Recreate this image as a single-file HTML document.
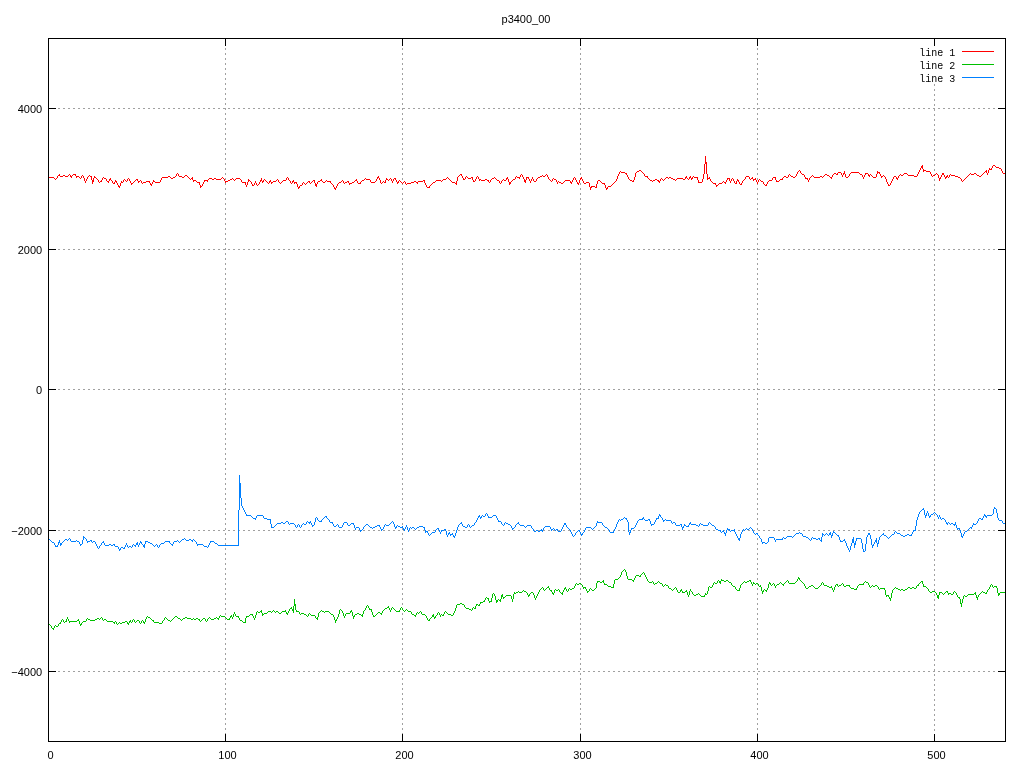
<!DOCTYPE html>
<html><head><meta charset="utf-8"><title>p3400_00</title>
<style>
html,body{margin:0;padding:0;background:#fff;overflow:hidden}
svg{display:block;will-change:transform}
text{font-family:"Liberation Sans",sans-serif;font-size:11px;fill:#000}
.m{font-family:"Liberation Mono",monospace;font-size:10px}
</style></head><body>
<svg width="1024" height="768" viewBox="0 0 1024 768">
<rect width="1024" height="768" fill="#fff"/>
<g shape-rendering="crispEdges" stroke="#a0a0a0" stroke-width="1" stroke-dasharray="2 3" fill="none">
<path d="M58 108.5H998"/>
<path d="M58 249.5H998"/>
<path d="M58 389.5H998"/>
<path d="M58 530.5H998"/>
<path d="M58 671.5H998"/>
<path d="M225.5 48V734"/>
<path d="M402.5 48V734"/>
<path d="M580.5 48V734"/>
<path d="M757.5 48V734"/>
<path d="M934.5 84V734"/>
</g>
<path shape-rendering="crispEdges" fill="#ff0000" d="m48 177h6v1h-6zm6 1h1v1h-1zm1 1h1v1h-1zm1 -1h1v1h-1zm1 -2h1v1h-1zm0 1h1v1h-1zm1 -2h2v1h-2zm1 -1h1v1h-1zm1 2h3v1h-3zm3 -1h2v1h-2zm2 1h3v1h-3zm3 -1h1v1h-1zm1 -1h1v1h-1zm1 1h1v1h-1zm0 1h2v1h-2zm1 1h1v1h-1zm1 -2h1v1h-1zm1 -1h3v1h-3zm2 1h1v1h-1zm1 1h3v1h-3zm0 1h1v1h-1zm3 0h1v1h-1zm1 1h1v1h-1zm1 -2h1v1h-1zm0 1h1v1h-1zm1 -2h1v1h-1zm1 1h1v1h-1zm0 1h1v1h-1zm1 1h1v3h-1zm1 3h1v1h-1zm0 1h1v1h-1zm1 -3h1v1h-1zm0 1h1v1h-1zm1 -3h1v1h-1zm0 1h1v1h-1zm1 -2h1v1h-1zm1 -1h1v1h-1zm1 1h1v1h-1zm1 0h1v4h-1zm1 4h1v4h-1zm1 -2h1v4h-1zm1 -2h1v1h-1zm0 1h2v1h-2zm2 1h1v1h-1zm1 1h1v1h-1zm1 1h1v1h-1zm0 1h1v1h-1zm1 1h1v1h-1zm1 -1h2v1h-2zm1 -1h1v1h-1zm1 -2h1v1h-1zm0 1h1v1h-1zm1 -2h1v1h-1zm1 1h2v1h-2zm2 1h1v1h-1zm0 1h1v1h-1zm1 1h2v1h-2zm1 1h1v1h-1zm1 -3h2v1h-2zm0 1h1v1h-1zm1 -2h1v1h-1zm1 2h1v1h-1zm1 1h1v1h-1zm0 1h1v1h-1zm1 1h2v1h-2zm1 -1h1v1h-1zm1 -2h1v1h-1zm0 1h2v1h-2zm1 1h1v1h-1zm1 1h1v1h-1zm0 1h1v1h-1zm1 1h1v1h-1zm0 1h2v1h-2zm1 1h1v1h-1zm1 -4h1v3h-1zm1 -2h1v1h-1zm0 1h2v1h-2zm2 -2h1v1h-1zm0 1h1v1h-1zm1 -2h1v1h-1zm1 1h1v1h-1zm1 1h1v1h-1zm1 -2h1v1h-1zm0 1h1v1h-1zm1 -2h1v1h-1zm1 1h1v1h-1zm0 1h1v1h-1zm1 1h1v1h-1zm0 1h1v1h-1zm1 1h2v1h-2zm0 1h1v1h-1zm2 -2h1v1h-1zm1 -1h1v1h-1zm1 -1h1v1h-1zm1 -1h2v1h-2zm1 1h1v1h-1zm1 1h2v1h-2zm0 1h1v1h-1zm2 -2h1v1h-1zm1 1h1v1h-1zm0 1h1v1h-1zm1 1h1v1h-1zm1 -1h3v1h-3zm3 -1h4v1h-4zm3 1h1v1h-1zm1 1h1v1h-1zm0 1h2v1h-2zm1 1h1v1h-1zm1 -3h1v1h-1zm0 1h1v1h-1zm1 -3h1v1h-1zm0 1h2v1h-2zm2 1h5v1h-5zm5 -2h1v1h-1zm0 1h1v1h-1zm1 -3h1v1h-1zm0 1h1v1h-1zm1 -2h6v1h-6zm6 -1h2v1h-2zm2 1h1v1h-1zm1 1h2v1h-2zm2 -1h2v1h-2zm2 -1h1v1h-1zm1 -2h1v1h-1zm0 1h1v1h-1zm1 -2h1v1h-1zm1 1h1v1h-1zm0 1h1v1h-1zm1 1h3v1h-3zm3 1h2v1h-2zm2 -1h1v1h-1zm1 -1h2v1h-2zm2 1h1v1h-1zm1 1h1v1h-1zm1 1h1v1h-1zm1 1h1v1h-1zm1 -1h1v1h-1zm1 -1h1v3h-1zm1 3h3v1h-3zm0 1h1v1h-1zm3 0h1v1h-1zm1 1h2v1h-2zm2 0h1v3h-1zm1 3h1v3h-1zm1 1h1v1h-1zm1 -2h1v1h-1zm0 1h1v1h-1zm1 -3h1v1h-1zm0 1h1v1h-1zm1 -3h4v1h-4zm0 1h1v1h-1zm3 0h1v1h-1zm1 -2h1v1h-1zm1 -1h3v1h-3zm3 1h2v1h-2zm2 -1h2v1h-2zm2 1h5v1h-5zm5 -1h1v1h-1zm1 -1h1v1h-1zm1 1h1v1h-1zm1 1h1v1h-1zm0 1h1v1h-1zm1 1h3v1h-3zm0 1h1v1h-1zm3 -2h2v1h-2zm2 -1h2v1h-2zm2 -1h1v1h-1zm1 1h1v1h-1zm1 1h1v1h-1zm1 -1h1v1h-1zm1 -1h4v1h-4zm4 1h1v1h-1zm1 1h1v1h-1zm0 1h1v1h-1zm1 1h3v1h-3zm3 0h1v3h-1zm1 3h1v1h-1zm0 1h1v1h-1zm1 -4h1v3h-1zm1 -3h1v3h-1zm1 1h1v1h-1zm1 1h1v1h-1zm1 1h1v1h-1zm0 1h1v1h-1zm1 1h1v1h-1zm0 1h2v1h-2zm2 -2h1v1h-1zm0 1h1v1h-1zm1 -3h1v1h-1zm0 1h1v1h-1zm1 1h1v1h-1zm0 1h1v1h-1zm1 1h1v1h-1zm1 -1h1v1h-1zm1 -2h1v1h-1zm0 1h1v1h-1zm1 -3h1v1h-1zm0 1h1v1h-1zm1 -3h1v3h-1zm1 3h2v1h-2zm0 1h1v1h-1zm1 -2h1v1h-1zm1 -1h1v1h-1zm1 1h1v1h-1zm1 1h1v1h-1zm1 1h1v1h-1zm1 1h1v1h-1zm1 -2h2v1h-2zm0 1h1v1h-1zm1 -2h1v1h-1zm1 2h2v1h-2zm0 1h1v1h-1zm2 -2h3v1h-3zm3 -1h1v1h-1zm1 -1h1v1h-1zm1 1h1v1h-1zm0 1h1v1h-1zm1 1h1v1h-1zm1 1h1v1h-1zm1 -1h1v1h-1zm1 -1h1v1h-1zm1 -1h3v1h-3zm3 -2h1v1h-1zm0 1h1v1h-1zm1 -2h1v1h-1zm1 1h1v1h-1zm0 1h1v1h-1zm1 1h1v1h-1zm1 1h1v1h-1zm0 1h1v1h-1zm1 1h1v1h-1zm1 -2h2v1h-2zm0 1h1v1h-1zm1 -2h1v1h-1zm1 2h3v1h-3zm0 1h1v1h-1zm2 0h1v1h-1zm1 1h1v3h-1zm1 3h2v1h-2zm0 1h1v1h-1zm1 -2h1v1h-1zm1 -1h2v1h-2zm2 -2h1v1h-1zm0 1h1v1h-1zm1 -2h1v1h-1zm1 1h1v1h-1zm1 1h1v1h-1zm1 -1h1v1h-1zm1 -1h1v1h-1zm1 -1h2v1h-2zm1 1h1v1h-1zm1 1h1v1h-1zm1 -1h1v1h-1zm1 -1h1v1h-1zm1 -1h1v1h-1zm1 0h1v3h-1zm1 3h1v3h-1zm1 1h1v3h-1zm1 -2h1v1h-1zm0 1h1v1h-1zm1 -2h2v1h-2zm2 -1h2v1h-2zm1 -1h1v1h-1zm1 2h1v1h-1zm1 1h2v1h-2zm2 -1h1v1h-1zm1 -1h1v1h-1zm1 1h4v1h-4zm3 1h1v1h-1zm1 1h1v1h-1zm1 1h1v1h-1zm1 1h1v1h-1zm0 1h1v1h-1zm1 1h1v1h-1zm0 1h2v1h-2zm1 1h1v1h-1zm1 -3h1v1h-1zm0 1h1v1h-1zm1 -3h1v1h-1zm0 1h1v1h-1zm1 -2h1v1h-1zm1 -1h2v1h-2zm2 -1h1v1h-1zm1 -1h1v1h-1zm1 1h1v1h-1zm0 1h1v1h-1zm1 1h1v1h-1zm1 -1h2v1h-2zm2 -1h2v1h-2zm1 1h1v1h-1zm1 1h3v1h-3zm0 1h1v1h-1zm3 -2h2v1h-2zm2 -1h1v1h-1zm1 -1h2v1h-2zm1 -1h1v1h-1zm1 2h1v1h-1zm0 1h1v1h-1zm1 1h3v1h-3zm2 -1h1v1h-1zm1 -1h1v1h-1zm1 -1h2v1h-2zm2 -1h1v1h-1zm1 -1h1v1h-1zm1 1h4v1h-4zm4 1h1v1h-1zm0 1h1v1h-1zm1 1h4v1h-4zm4 -1h1v1h-1zm1 -2h1v1h-1zm0 1h1v1h-1zm1 -3h2v1h-2zm0 1h1v1h-1zm1 -2h1v1h-1zm1 2h1v1h-1zm0 1h1v1h-1zm1 1h1v3h-1zm1 3h1v1h-1zm1 -1h1v1h-1zm1 -1h1v1h-1zm1 1h1v1h-1zm1 -2h1v3h-1zm1 -2h1v1h-1zm0 1h2v1h-2zm2 1h1v1h-1zm1 -1h1v1h-1zm1 -1h1v1h-1zm1 1h1v1h-1zm0 1h1v1h-1zm1 1h1v1h-1zm0 1h1v1h-1zm1 -3h1v1h-1zm0 1h1v1h-1zm1 -2h2v1h-2zm1 1h1v1h-1zm1 1h1v1h-1zm0 1h1v1h-1zm1 1h2v1h-2zm0 1h1v1h-1zm1 -2h1v1h-1zm1 -1h1v1h-1zm1 1h1v1h-1zm1 1h1v1h-1zm1 1h1v1h-1zm1 -1h1v1h-1zm1 -1h1v1h-1zm1 1h1v1h-1zm0 1h1v1h-1zm1 1h1v1h-1zm1 -1h4v1h-4zm4 -1h3v1h-3zm3 -1h2v1h-2zm2 1h2v1h-2zm1 1h1v1h-1zm1 -2h5v1h-5zm5 -1h1v1h-1zm1 0h1v3h-1zm1 3h1v1h-1zm0 1h1v1h-1zm1 1h1v1h-1zm0 1h1v1h-1zm1 1h3v1h-3zm2 -1h1v1h-1zm1 -1h1v1h-1zm1 -1h1v1h-1zm1 -1h1v1h-1zm1 -1h2v1h-2zm2 -1h1v1h-1zm1 -1h5v1h-5zm5 1h1v1h-1zm1 -1h1v1h-1zm1 -1h3v1h-3zm3 -1h1v1h-1zm1 -1h1v1h-1zm1 1h1v1h-1zm1 1h1v1h-1zm1 1h1v1h-1zm1 1h1v1h-1zm1 1h3v1h-3zm3 1h1v1h-1zm1 -2h1v4h-1zm1 -4h1v4h-1zm1 -1h1v1h-1zm1 -1h1v1h-1zm1 -1h2v1h-2zm1 1h1v1h-1zm1 1h1v1h-1zm0 1h1v1h-1zm1 1h1v1h-1zm0 1h2v1h-2zm2 -2h1v1h-1zm0 1h1v1h-1zm1 -2h1v1h-1zm1 1h1v1h-1zm1 1h3v1h-3zm3 -1h1v1h-1zm1 0h1v3h-1zm1 3h1v1h-1zm0 1h2v1h-2zm2 -2h1v1h-1zm0 1h1v1h-1zm1 -3h1v1h-1zm0 1h1v1h-1zm1 -2h1v1h-1zm1 1h1v1h-1zm0 1h1v1h-1zm1 1h2v1h-2zm0 1h1v1h-1zm2 0h4v1h-4zm4 -1h2v1h-2zm2 1h2v1h-2zm1 1h1v1h-1zm1 1h1v1h-1zm1 -2h1v1h-1zm0 1h1v1h-1zm1 -2h1v1h-1zm1 -1h2v1h-2zm2 -1h1v1h-1zm1 1h1v1h-1zm1 1h1v1h-1zm1 1h2v1h-2zm2 1h1v1h-1zm0 1h1v1h-1zm1 1h1v1h-1zm1 -2h1v1h-1zm0 1h1v1h-1zm1 -2h1v1h-1zm1 -1h1v1h-1zm1 1h2v1h-2zm2 -2h2v1h-2zm0 1h1v1h-1zm1 -2h1v1h-1zm1 2h1v3h-1zm1 3h1v3h-1zm1 0h1v1h-1zm0 1h1v1h-1zm1 -2h1v1h-1zm1 -1h1v1h-1zm1 -1h2v1h-2zm2 -2h1v1h-1zm0 1h1v1h-1zm1 -2h1v1h-1zm1 1h3v1h-3zm2 1h1v1h-1zm1 -3h1v1h-1zm0 1h1v1h-1zm1 -2h1v1h-1zm1 1h1v1h-1zm0 1h1v1h-1zm1 1h1v1h-1zm0 1h1v1h-1zm1 1h1v3h-1zm1 1h1v3h-1zm1 -3h1v3h-1zm1 0h2v1h-2zm1 1h1v1h-1zm1 1h1v1h-1zm0 1h1v1h-1zm1 1h1v1h-1zm0 1h1v1h-1zm1 -3h1v1h-1zm0 1h1v1h-1zm1 -3h1v1h-1zm0 1h1v1h-1zm1 1h1v1h-1zm0 1h1v1h-1zm1 1h2v1h-2zm2 -2h1v1h-1zm0 1h1v1h-1zm1 -2h1v1h-1zm1 -1h2v1h-2zm2 -1h2v1h-2zm2 -1h1v1h-1zm1 1h2v1h-2zm2 -1h1v1h-1zm1 -1h1v1h-1zm1 1h1v1h-1zm0 1h1v1h-1zm1 1h1v1h-1zm0 1h1v1h-1zm1 1h1v1h-1zm1 1h1v1h-1zm1 1h1v1h-1zm1 -2h1v1h-1zm0 1h1v1h-1zm1 -2h1v1h-1zm1 1h2v1h-2zm2 1h1v1h-1zm0 1h1v1h-1zm1 1h1v1h-1zm0 1h1v1h-1zm1 -2h1v1h-1zm1 1h2v1h-2zm2 1h2v1h-2zm2 -1h1v1h-1zm1 -1h1v1h-1zm1 -1h5v1h-5zm5 1h1v1h-1zm0 1h2v1h-2zm1 1h1v1h-1zm1 -3h1v1h-1zm0 1h1v1h-1zm1 -3h1v1h-1zm0 1h1v1h-1zm1 -2h1v1h-1zm1 1h1v1h-1zm0 1h1v1h-1zm1 1h1v1h-1zm0 1h1v1h-1zm1 1h1v1h-1zm0 1h2v1h-2zm1 1h1v1h-1zm1 -4h1v3h-1zm1 -2h2v1h-2zm0 1h1v1h-1zm1 -2h1v1h-1zm1 2h1v1h-1zm0 1h1v1h-1zm1 1h1v1h-1zm0 1h1v1h-1zm1 1h2v1h-2zm2 -1h3v1h-3zm3 1h1v4h-1zm1 4h1v3h-1zm1 -1h4v1h-4zm0 1h1v1h-1zm4 0h1v1h-1zm1 -3h1v4h-1zm1 -3h1v3h-1zm1 -1h2v1h-2zm2 1h1v1h-1zm1 1h1v1h-1zm1 1h3v1h-3zm2 1h1v1h-1zm1 1h1v3h-1zm1 3h2v1h-2zm0 1h1v1h-1zm1 -2h1v1h-1zm1 -1h3v1h-3zm3 -1h1v1h-1zm1 -1h1v1h-1zm1 -1h1v1h-1zm1 -1h1v1h-1zm1 -1h1v1h-1zm1 -2h1v1h-1zm0 1h1v1h-1zm1 -4h1v3h-1zm1 -2h1v1h-1zm0 1h1v1h-1zm1 -3h1v1h-1zm0 1h1v1h-1zm1 -2h1v1h-1zm1 1h4v1h-4zm4 1h2v1h-2zm1 1h1v1h-1zm1 1h1v1h-1zm0 1h1v1h-1zm1 1h1v1h-1zm0 1h1v1h-1zm1 1h1v1h-1zm1 1h2v1h-2zm2 1h2v1h-2zm1 -1h1v1h-1zm1 -3h1v3h-1zm1 -4h1v4h-1zm1 -1h1v1h-1zm1 -1h2v1h-2zm2 -1h2v1h-2zm2 1h1v1h-1zm1 1h1v1h-1zm1 1h1v1h-1zm1 1h1v1h-1zm0 1h1v1h-1zm1 1h3v1h-3zm2 1h1v1h-1zm1 1h1v1h-1zm1 1h1v1h-1zm1 1h2v1h-2zm2 1h1v1h-1zm1 -1h2v1h-2zm2 -1h2v1h-2zm2 1h2v1h-2zm1 1h2v1h-2zm1 1h1v1h-1zm1 -3h1v1h-1zm0 1h1v1h-1zm1 -2h1v1h-1zm1 1h1v1h-1zm1 1h1v1h-1zm1 -1h1v1h-1zm1 -1h1v1h-1zm1 -1h2v1h-2zm2 1h1v1h-1zm1 -1h2v1h-2zm2 1h2v1h-2zm2 1h2v1h-2zm2 1h1v1h-1zm1 -1h1v1h-1zm1 -1h6v1h-6zm6 1h2v1h-2zm2 -2h2v1h-2zm0 1h1v1h-1zm1 -2h1v1h-1zm1 2h1v1h-1zm1 1h1v1h-1zm1 -2h2v1h-2zm0 1h1v1h-1zm1 -2h1v1h-1zm1 2h2v1h-2zm0 1h1v1h-1zm1 -2h1v1h-1zm1 -1h1v1h-1zm1 1h3v1h-3zm3 0h1v3h-1zm1 3h1v3h-1zm1 2h3v1h-3zm3 -3h1v3h-1zm1 -5h1v5h-1zm1 -10h1v10h-1zm1 -8h1v8h-1zm1 6h1v12h-1zm1 12h1v6h-1zm1 4h2v1h-2zm1 -1h1v1h-1zm1 2h1v1h-1zm0 1h1v1h-1zm1 1h1v1h-1zm1 1h1v1h-1zm1 1h3v1h-3zm2 1h1v1h-1zm1 1h2v1h-2zm0 1h1v1h-1zm2 -2h1v1h-1zm1 -1h3v1h-3zm3 -1h1v1h-1zm1 -1h1v1h-1zm1 1h2v1h-2zm1 1h1v1h-1zm1 -3h1v1h-1zm0 1h1v1h-1zm1 -3h2v1h-2zm0 1h1v1h-1zm2 -1h1v3h-1zm1 3h1v1h-1zm0 1h1v1h-1zm1 -3h1v1h-1zm0 1h1v1h-1zm1 -2h1v1h-1zm1 1h1v1h-1zm0 1h1v1h-1zm1 1h1v1h-1zm0 1h1v1h-1zm1 1h1v1h-1zm1 -2h1v3h-1zm1 -2h1v1h-1zm0 1h2v1h-2zm1 1h1v1h-1zm1 1h1v1h-1zm0 1h1v1h-1zm1 1h2v1h-2zm1 -1h1v1h-1zm1 -2h1v1h-1zm0 1h1v1h-1zm1 -2h1v1h-1zm1 -1h1v1h-1zm1 -2h1v1h-1zm0 1h1v1h-1zm1 -2h3v1h-3zm3 1h1v1h-1zm0 1h1v1h-1zm1 1h1v1h-1zm1 -1h2v1h-2zm1 -1h1v1h-1zm1 2h3v1h-3zm0 1h1v1h-1zm2 -2h1v1h-1zm1 2h1v1h-1zm0 1h1v1h-1zm1 1h1v1h-1zm0 1h1v1h-1zm1 -3h1v1h-1zm0 1h1v1h-1zm1 -2h1v1h-1zm1 1h1v1h-1zm1 1h2v1h-2zm2 1h1v1h-1zm0 1h1v1h-1zm1 1h1v1h-1zm1 1h2v1h-2zm1 -1h1v1h-1zm1 -2h1v1h-1zm0 1h1v1h-1zm1 -2h1v1h-1zm1 -1h3v1h-3zm3 -2h1v1h-1zm0 1h1v1h-1zm1 -2h2v1h-2zm2 0h1v3h-1zm1 3h1v1h-1zm0 1h3v1h-3zm3 -1h1v1h-1zm1 -1h3v1h-3zm2 -1h1v1h-1zm1 -1h1v1h-1zm1 -1h2v1h-2zm2 1h2v1h-2zm2 -2h1v1h-1zm0 1h1v1h-1zm1 -2h1v1h-1zm1 1h1v1h-1zm1 1h2v1h-2zm2 1h2v1h-2zm2 -1h1v1h-1zm1 -2h1v1h-1zm0 1h1v1h-1zm1 -3h1v1h-1zm0 1h1v1h-1zm1 -2h1v1h-1zm1 -1h1v1h-1zm1 1h1v1h-1zm0 1h1v1h-1zm1 1h1v1h-1zm1 1h2v1h-2zm2 1h1v1h-1zm0 1h1v1h-1zm1 1h1v1h-1zm0 1h3v1h-3zm2 1h1v1h-1zm1 1h1v1h-1zm0 1h1v1h-1zm1 -3h1v1h-1zm0 1h1v1h-1zm1 -2h1v1h-1zm1 -1h1v1h-1zm1 -1h1v1h-1zm1 1h1v1h-1zm1 1h6v1h-6zm6 -1h2v1h-2zm2 1h1v1h-1zm1 -1h1v1h-1zm1 -1h1v1h-1zm1 -1h2v1h-2zm2 1h2v1h-2zm2 1h1v1h-1zm1 1h2v1h-2zm1 1h1v1h-1zm1 -3h1v1h-1zm0 1h1v1h-1zm1 -2h1v1h-1zm1 -1h2v1h-2zm2 1h2v1h-2zm1 -1h1v1h-1zm1 -1h3v1h-3zm3 1h1v1h-1zm0 1h1v1h-1zm1 1h1v1h-1zm0 1h1v1h-1zm1 -3h1v1h-1zm0 1h1v1h-1zm1 -3h1v3h-1zm1 3h1v3h-1zm1 3h2v1h-2zm2 -1h1v1h-1zm1 -2h1v1h-1zm0 1h1v1h-1zm1 -2h1v1h-1zm1 -1h8v1h-8zm8 1h1v1h-1zm1 1h2v1h-2zm2 1h1v1h-1zm0 1h1v1h-1zm1 1h1v1h-1zm0 1h1v1h-1zm1 -3h1v1h-1zm0 1h1v1h-1zm1 -3h3v1h-3zm0 1h1v1h-1zm3 0h1v1h-1zm0 1h2v1h-2zm1 1h1v1h-1zm1 -2h1v1h-1zm1 1h1v1h-1zm1 1h1v1h-1zm1 1h3v1h-3zm3 -3h1v3h-1zm1 -3h1v3h-1zm1 1h2v1h-2zm1 1h1v1h-1zm1 1h1v1h-1zm0 1h1v1h-1zm1 1h2v1h-2zm0 1h1v1h-1zm2 -2h1v1h-1zm1 1h1v1h-1zm1 1h1v1h-1zm0 1h1v1h-1zm1 1h1v3h-1zm1 3h1v1h-1zm0 1h1v1h-1zm1 1h1v1h-1zm0 1h2v1h-2zm2 -2h1v1h-1zm0 1h1v1h-1zm1 -3h1v1h-1zm0 1h1v1h-1zm1 -3h1v1h-1zm0 1h1v1h-1zm1 -3h1v1h-1zm0 1h1v1h-1zm1 -2h2v1h-2zm2 1h1v1h-1zm0 1h2v1h-2zm1 1h1v1h-1zm1 -3h1v1h-1zm0 1h1v1h-1zm1 -2h1v1h-1zm1 -1h1v1h-1zm1 1h2v1h-2zm2 -1h1v1h-1zm1 -1h3v1h-3zm3 1h1v1h-1zm1 1h6v1h-6zm6 1h3v1h-3zm3 -2h1v1h-1zm0 1h1v1h-1zm1 -3h1v1h-1zm0 1h1v1h-1zm1 -3h1v1h-1zm0 1h1v1h-1zm1 -3h1v1h-1zm0 1h1v1h-1zm1 -3h1v1h-1zm0 1h1v1h-1zm1 -2h1v4h-1zm1 4h1v3h-1zm1 1h2v1h-2zm2 1h4v1h-4zm4 1h1v1h-1zm0 1h1v1h-1zm1 1h1v1h-1zm0 1h1v1h-1zm1 1h1v1h-1zm1 -1h2v1h-2zm2 -1h1v1h-1zm1 -1h1v1h-1zm1 1h1v1h-1zm1 1h1v3h-1zm1 3h1v3h-1zm1 -1h1v1h-1zm0 1h1v1h-1zm1 -3h1v1h-1zm0 1h1v1h-1zm1 -3h2v1h-2zm0 1h2v1h-2zm2 1h1v1h-1zm0 1h1v1h-1zm1 1h2v1h-2zm0 1h1v1h-1zm1 -2h2v1h-2zm1 -1h1v1h-1zm1 2h1v1h-1zm1 -2h1v1h-1zm0 1h1v1h-1zm1 -2h1v1h-1zm1 1h4v1h-4zm4 1h3v1h-3zm3 1h2v1h-2zm2 1h1v1h-1zm1 1h1v1h-1zm0 1h1v1h-1zm1 1h1v1h-1zm1 -1h1v1h-1zm1 -1h1v1h-1zm1 -1h1v1h-1zm1 -1h1v1h-1zm1 -1h1v1h-1zm1 -1h1v1h-1zm1 -1h1v1h-1zm1 -1h1v1h-1zm1 1h3v1h-3zm3 -1h2v1h-2zm2 1h1v1h-1zm1 1h2v1h-2zm2 1h2v1h-2zm2 -1h1v1h-1zm1 -1h1v1h-1zm1 -1h1v1h-1zm1 -1h1v1h-1zm1 -1h1v1h-1zm1 -1h1v3h-1zm1 3h1v1h-1zm0 1h1v1h-1zm1 -4h1v3h-1zm1 -2h1v1h-1zm0 1h3v1h-3zm2 -1h1v1h-1zm1 -2h1v1h-1zm0 1h1v1h-1zm1 -2h2v1h-2zm2 1h1v1h-1zm1 1h3v1h-3zm3 1h2v1h-2zm2 1h1v1h-1zm0 1h1v1h-1zm1 1h1v1h-1zm0 1h1v1h-1zm1 1h3v1h-3z"/>
<path shape-rendering="crispEdges" fill="#00c000" d="m48 624h2v1h-2zm2 1h1v1h-1zm1 1h1v1h-1zm0 1h1v1h-1zm1 1h2v1h-2zm1 1h1v1h-1zm1 -3h1v1h-1zm0 1h1v1h-1zm1 -2h1v1h-1zm1 1h2v1h-2zm2 -2h1v1h-1zm0 1h1v1h-1zm1 -2h2v1h-2zm1 -1h1v1h-1zm1 -2h1v1h-1zm0 1h1v1h-1zm1 -2h1v1h-1zm1 1h1v1h-1zm0 1h1v1h-1zm1 1h1v1h-1zm1 -1h1v1h-1zm1 -2h1v3h-1zm1 -2h1v1h-1zm0 1h1v1h-1zm1 1h1v1h-1zm0 1h1v1h-1zm1 1h8v1h-8zm0 1h1v1h-1zm8 -2h2v1h-2zm1 -1h1v1h-1zm1 2h1v3h-1zm1 3h2v1h-2zm0 1h1v1h-1zm1 -2h1v1h-1zm1 -1h1v1h-1zm1 -1h3v1h-3zm3 -2h1v1h-1zm0 1h1v1h-1zm1 -2h1v1h-1zm1 1h2v1h-2zm2 1h5v1h-5zm5 -1h2v1h-2zm2 -1h2v1h-2zm2 1h1v1h-1zm1 -1h1v1h-1zm1 -1h1v1h-1zm1 1h1v1h-1zm0 1h1v1h-1zm1 1h1v1h-1zm1 -1h2v1h-2zm2 1h1v1h-1zm1 1h6v1h-6zm6 1h2v1h-2zm1 1h1v1h-1zm1 -2h1v1h-1zm1 1h1v1h-1zm0 1h1v1h-1zm1 1h1v1h-1zm1 -1h1v1h-1zm1 -1h1v1h-1zm1 1h2v1h-2zm2 -1h3v1h-3zm3 -1h2v1h-2zm2 1h1v1h-1zm0 1h2v1h-2zm1 1h1v1h-1zm1 -3h2v1h-2zm0 1h1v1h-1zm1 -2h1v1h-1zm1 2h1v1h-1zm1 -2h1v1h-1zm0 1h1v1h-1zm1 -2h1v1h-1zm1 1h1v1h-1zm0 1h1v1h-1zm1 1h1v1h-1zm1 -1h1v1h-1zm1 -1h2v1h-2zm2 1h1v1h-1zm0 1h1v1h-1zm1 1h1v1h-1zm1 -2h1v1h-1zm0 1h1v1h-1zm1 -2h1v1h-1zm1 1h1v1h-1zm0 1h2v1h-2zm1 1h1v1h-1zm1 -4h1v3h-1zm1 -2h1v1h-1zm0 1h1v1h-1zm1 -2h1v1h-1zm1 1h2v1h-2zm2 1h1v1h-1zm1 1h1v1h-1zm1 1h2v1h-2zm1 1h1v1h-1zm1 1h5v1h-5zm5 1h3v1h-3zm3 -2h1v1h-1zm0 1h1v1h-1zm1 -2h1v1h-1zm1 -2h1v1h-1zm0 1h1v1h-1zm1 -2h1v1h-1zm1 1h1v1h-1zm1 1h1v1h-1zm1 1h2v1h-2zm2 1h1v1h-1zm1 -1h1v1h-1zm1 -1h1v1h-1zm1 -1h1v1h-1zm1 -1h1v1h-1zm1 -1h2v1h-2zm2 1h1v1h-1zm1 1h2v1h-2zm2 1h1v1h-1zm1 1h1v1h-1zm1 -1h1v1h-1zm1 -1h2v1h-2zm2 -1h2v1h-2zm2 1h4v1h-4zm4 1h2v1h-2zm2 -1h1v1h-1zm1 1h2v1h-2zm2 -1h2v1h-2zm2 1h2v1h-2zm1 1h1v1h-1zm1 1h1v1h-1zm1 -1h1v1h-1zm1 -1h1v1h-1zm1 -1h2v1h-2zm2 1h1v1h-1zm0 1h1v1h-1zm1 1h1v1h-1zm1 -2h1v1h-1zm0 1h1v1h-1zm1 -2h1v1h-1zm1 -1h1v1h-1zm1 1h1v1h-1zm1 1h3v1h-3zm3 -1h2v1h-2zm2 -1h1v1h-1zm1 1h2v1h-2zm1 1h1v1h-1zm1 -3h1v1h-1zm0 1h1v1h-1zm1 -2h1v1h-1zm1 1h4v1h-4zm4 1h1v1h-1zm1 1h1v1h-1zm1 1h3v1h-3zm2 -1h1v1h-1zm1 -2h2v1h-2zm0 1h1v1h-1zm1 -2h1v1h-1zm1 2h1v1h-1zm0 1h1v1h-1zm1 -4h1v3h-1zm1 -2h1v1h-1zm0 1h1v1h-1zm1 1h1v1h-1zm0 1h1v1h-1zm1 1h3v1h-3zm2 1h1v1h-1zm1 1h1v1h-1zm0 1h1v1h-1zm1 1h2v1h-2zm2 1h1v1h-1zm1 1h2v1h-2zm2 -4h1v5h-1zm1 -2h3v1h-3zm0 1h1v1h-1zm3 -2h1v1h-1zm1 -1h3v1h-3zm2 1h1v1h-1zm1 1h1v1h-1zm0 1h1v1h-1zm1 1h1v1h-1zm0 1h1v1h-1zm1 -4h1v3h-1zm1 -3h1v3h-1zm1 -1h1v1h-1zm1 1h2v1h-2zm2 -1h1v1h-1zm1 -1h1v3h-1zm1 3h1v3h-1zm1 1h1v1h-1zm1 -1h3v1h-3zm3 -1h1v1h-1zm1 -1h3v1h-3zm3 1h1v1h-1zm1 -1h1v1h-1zm1 -1h1v1h-1zm1 1h1v1h-1zm1 1h1v1h-1zm1 -1h2v1h-2zm2 1h1v1h-1zm1 1h2v1h-2zm2 -1h1v1h-1zm1 -1h4v1h-4zm3 -1h1v1h-1zm1 2h1v1h-1zm0 1h2v1h-2zm1 1h1v1h-1zm1 -3h1v1h-1zm0 1h1v1h-1zm1 -3h1v1h-1zm0 1h1v1h-1zm1 -2h2v1h-2zm1 -1h1v1h-1zm1 2h1v1h-1zm0 1h1v1h-1zm1 -4h1v7h-1zm1 -7h1v7h-1zm1 5h1v6h-1zm1 6h1v1h-1zm0 1h3v1h-3zm3 1h1v1h-1zm0 1h1v1h-1zm1 1h1v1h-1zm1 -1h3v1h-3zm3 1h2v1h-2zm2 1h1v1h-1zm1 1h1v1h-1zm1 -2h1v1h-1zm0 1h1v1h-1zm1 -2h1v1h-1zm1 1h1v1h-1zm1 1h4v1h-4zm4 1h1v1h-1zm0 1h1v1h-1zm1 1h1v1h-1zm1 -1h1v3h-1zm1 -4h1v4h-1zm1 -1h1v1h-1zm1 -1h1v1h-1zm1 -1h1v1h-1zm1 1h2v1h-2zm2 1h1v1h-1zm1 -1h4v1h-4zm4 1h1v1h-1zm1 1h1v1h-1zm1 1h2v1h-2zm2 1h1v1h-1zm0 1h1v1h-1zm1 1h1v3h-1zm1 3h1v3h-1zm1 -1h1v1h-1zm0 1h1v1h-1zm1 -3h1v1h-1zm0 1h1v1h-1zm1 -4h1v3h-1zm1 -4h1v4h-1zm1 -1h1v1h-1zm1 1h1v1h-1zm1 1h1v1h-1zm0 1h1v1h-1zm1 1h1v3h-1zm1 3h1v1h-1zm0 1h1v1h-1zm1 -3h1v1h-1zm0 1h1v1h-1zm1 -2h4v1h-4zm4 -2h2v1h-2zm0 1h1v1h-1zm1 -2h1v1h-1zm1 2h1v4h-1zm1 4h1v3h-1zm1 -1h1v1h-1zm0 1h1v1h-1zm1 -2h2v1h-2zm2 -1h2v1h-2zm2 1h2v1h-2zm2 1h1v1h-1zm1 -1h1v3h-1zm1 -3h1v3h-1zm1 -1h1v1h-1zm1 -2h1v1h-1zm0 1h1v1h-1zm1 -3h1v1h-1zm0 1h1v1h-1zm1 -2h1v1h-1zm1 1h1v1h-1zm0 1h1v1h-1zm1 1h1v1h-1zm0 1h2v1h-2zm2 0h1v3h-1zm1 3h1v3h-1zm1 3h1v1h-1zm0 1h2v1h-2zm2 -1h1v1h-1zm1 -1h1v1h-1zm1 -1h1v1h-1zm1 -1h2v1h-2zm2 1h2v1h-2zm1 1h1v1h-1zm1 -3h1v1h-1zm0 1h1v1h-1zm1 -2h1v1h-1zm1 -1h1v1h-1zm1 -1h2v1h-2zm2 -1h2v1h-2zm1 -1h1v1h-1zm1 2h1v1h-1zm0 1h1v1h-1zm1 1h1v1h-1zm0 1h1v1h-1zm1 -3h1v1h-1zm0 1h1v1h-1zm1 -2h1v1h-1zm1 1h1v1h-1zm1 1h1v1h-1zm1 1h1v1h-1zm1 1h4v1h-4zm3 -1h1v1h-1zm1 -2h1v1h-1zm0 1h1v1h-1zm1 -2h1v1h-1zm1 1h1v1h-1zm0 1h1v1h-1zm1 1h1v1h-1zm1 1h1v1h-1zm1 -1h1v1h-1zm1 -1h1v1h-1zm1 1h1v1h-1zm1 1h3v1h-3zm3 1h1v1h-1zm0 1h1v1h-1zm1 1h2v1h-2zm2 1h2v1h-2zm1 1h1v1h-1zm1 -3h1v1h-1zm0 1h1v1h-1zm1 -2h1v1h-1zm1 1h1v1h-1zm1 -1h1v1h-1zm1 -1h1v1h-1zm1 1h1v1h-1zm0 1h1v1h-1zm1 1h3v1h-3zm3 1h1v1h-1zm1 1h1v1h-1zm0 1h1v1h-1zm1 1h1v1h-1zm0 1h1v1h-1zm1 1h2v1h-2zm1 -1h1v1h-1zm1 -1h1v1h-1zm1 -1h1v1h-1zm1 -2h1v1h-1zm0 1h1v1h-1zm1 -2h1v3h-1zm1 3h2v1h-2zm0 1h1v1h-1zm1 -2h1v1h-1zm1 -1h1v1h-1zm1 -2h1v1h-1zm0 1h1v1h-1zm1 -2h1v1h-1zm1 1h1v1h-1zm0 1h1v1h-1zm1 1h1v1h-1zm0 1h1v1h-1zm1 -2h1v1h-1zm1 1h2v1h-2zm1 -1h1v1h-1zm1 -2h1v1h-1zm0 1h1v1h-1zm1 -2h1v1h-1zm1 1h1v1h-1zm1 1h1v1h-1zm1 1h3v1h-3zm3 1h2v1h-2zm2 -2h1v1h-1zm0 1h1v1h-1zm1 -3h1v1h-1zm0 1h1v1h-1zm1 -4h1v3h-1zm1 -3h1v3h-1zm1 -1h3v1h-3zm3 -1h2v1h-2zm2 1h2v1h-2zm2 1h1v1h-1zm0 1h1v1h-1zm1 1h1v1h-1zm1 1h3v1h-3zm3 1h2v1h-2zm2 1h1v1h-1zm1 -2h1v1h-1zm0 1h1v1h-1zm1 -2h1v1h-1zm1 1h1v1h-1zm1 -2h1v3h-1zm1 -2h2v1h-2zm0 1h1v1h-1zm2 0h2v1h-2zm1 -1h1v1h-1zm1 -2h3v1h-3zm0 1h1v1h-1zm3 -2h2v1h-2zm1 -1h1v1h-1zm1 -2h1v1h-1zm0 1h1v1h-1zm1 -2h1v1h-1zm1 1h1v1h-1zm1 0h1v3h-1zm1 3h2v1h-2zm0 1h1v1h-1zm2 -4h1v4h-1zm1 -4h1v4h-1zm1 -1h1v1h-1zm1 1h1v1h-1zm0 1h1v1h-1zm1 1h1v4h-1zm1 4h1v3h-1zm1 0h1v1h-1zm0 1h1v1h-1zm1 -2h1v1h-1zm1 1h1v1h-1zm1 -1h1v3h-1zm1 -4h1v4h-1zm1 -1h1v3h-1zm1 3h2v1h-2zm0 1h1v1h-1zm2 -2h1v1h-1zm1 -1h5v1h-5zm5 1h1v3h-1zm1 3h1v3h-1zm1 -5h1v5h-1zm1 -2h1v1h-1zm0 1h2v1h-2zm2 -1h2v1h-2zm2 -1h1v1h-1zm1 1h3v1h-3zm3 -1h1v1h-1zm1 -1h1v1h-1zm1 1h2v1h-2zm2 1h1v1h-1zm1 1h1v1h-1zm0 1h1v1h-1zm1 1h2v1h-2zm0 1h1v1h-1zm1 -2h1v1h-1zm1 -1h1v1h-1zm1 -1h2v1h-2zm2 1h1v1h-1zm0 1h1v1h-1zm1 1h1v3h-1zm1 3h1v1h-1zm0 1h1v1h-1zm1 -3h1v1h-1zm0 1h1v1h-1zm1 -3h1v1h-1zm0 1h1v1h-1zm1 -3h1v1h-1zm0 1h1v1h-1zm1 -3h1v1h-1zm0 1h1v1h-1zm1 -2h1v1h-1zm1 -1h1v1h-1zm1 -1h1v1h-1zm1 1h1v1h-1zm0 1h1v1h-1zm1 1h1v1h-1zm1 -1h1v1h-1zm1 -1h1v1h-1zm1 -1h2v1h-2zm1 -1h1v1h-1zm1 2h1v1h-1zm0 1h1v1h-1zm1 1h2v1h-2zm1 1h1v1h-1zm1 1h1v1h-1zm0 1h2v1h-2zm1 1h1v1h-1zm1 -4h1v3h-1zm1 -1h1v1h-1zm1 1h2v1h-2zm2 -1h1v1h-1zm1 1h1v1h-1zm0 1h1v1h-1zm1 1h1v1h-1zm1 1h1v1h-1zm1 -1h1v3h-1zm1 -2h1v1h-1zm0 1h1v1h-1zm1 -3h2v1h-2zm0 1h1v1h-1zm1 -2h1v1h-1zm1 2h1v1h-1zm0 1h1v1h-1zm1 1h1v1h-1zm1 -2h1v1h-1zm0 1h1v1h-1zm1 -2h1v1h-1zm1 1h2v1h-2zm2 -1h2v1h-2zm2 -2h1v1h-1zm0 1h1v1h-1zm1 -3h1v1h-1zm0 1h1v1h-1zm1 -2h1v1h-1zm1 1h2v1h-2zm2 -1h2v1h-2zm2 1h1v1h-1zm1 1h1v1h-1zm0 1h1v1h-1zm1 1h3v1h-3zm0 1h1v1h-1zm2 0h1v1h-1zm1 1h1v1h-1zm0 1h1v1h-1zm1 1h2v1h-2zm0 1h1v1h-1zm2 -3h1v1h-1zm0 1h1v1h-1zm1 -2h1v1h-1zm1 1h1v1h-1zm1 1h2v1h-2zm2 -1h1v1h-1zm1 -1h1v1h-1zm1 -5h1v5h-1zm1 -2h3v1h-3zm0 1h1v1h-1zm3 0h2v1h-2zm2 -1h1v1h-1zm1 -1h1v3h-1zm1 3h1v1h-1zm0 1h3v1h-3zm3 1h1v1h-1zm1 1h3v1h-3zm3 1h2v1h-2zm2 -3h1v4h-1zm1 -4h1v4h-1zm1 -1h3v1h-3zm3 -1h1v1h-1zm1 -1h1v1h-1zm1 -2h1v1h-1zm0 1h1v1h-1zm1 -4h1v3h-1zm1 -1h1v1h-1zm1 -1h1v1h-1zm1 -1h1v1h-1zm1 1h1v1h-1zm0 1h1v1h-1zm1 1h1v4h-1zm1 4h1v3h-1zm1 3h4v1h-4zm4 1h2v1h-2zm1 1h1v1h-1zm1 -3h1v1h-1zm0 1h1v1h-1zm1 -3h1v1h-1zm0 1h1v1h-1zm1 -2h3v1h-3zm3 1h2v1h-2zm1 -1h1v1h-1zm1 -1h1v1h-1zm1 -1h1v1h-1zm1 -1h1v1h-1zm1 1h1v1h-1zm0 1h1v1h-1zm1 1h1v1h-1zm0 1h1v1h-1zm1 1h1v1h-1zm0 1h1v1h-1zm1 1h1v1h-1zm0 1h1v1h-1zm1 1h1v1h-1zm1 1h3v1h-3zm3 -1h1v1h-1zm1 1h1v1h-1zm0 1h1v1h-1zm1 1h1v1h-1zm1 -1h2v1h-2zm2 -1h1v1h-1zm1 -1h1v1h-1zm1 1h1v1h-1zm1 1h2v1h-2zm2 1h1v1h-1zm0 1h1v1h-1zm1 1h1v1h-1zm1 -1h1v1h-1zm1 -1h1v1h-1zm1 1h2v1h-2zm2 1h1v1h-1zm0 1h1v1h-1zm1 1h2v1h-2zm2 1h1v1h-1zm1 1h1v1h-1zm1 -1h1v1h-1zm1 -1h1v1h-1zm1 -1h1v1h-1zm1 1h1v1h-1zm0 1h1v1h-1zm1 1h1v1h-1zm0 1h1v1h-1zm1 1h2v1h-2zm2 -2h2v1h-2zm0 1h1v1h-1zm1 -2h1v1h-1zm1 2h1v1h-1zm0 1h3v1h-3zm3 -1h2v1h-2zm1 -1h1v1h-1zm1 2h1v3h-1zm1 3h1v1h-1zm0 1h1v1h-1zm1 -5h1v4h-1zm1 -2h1v1h-1zm0 1h1v1h-1zm1 1h1v1h-1zm1 1h1v1h-1zm0 1h1v1h-1zm1 1h1v1h-1zm1 1h2v1h-2zm2 -1h2v1h-2zm2 -1h1v1h-1zm1 1h1v1h-1zm1 1h1v1h-1zm1 1h4v1h-4zm3 -1h1v1h-1zm1 -2h1v1h-1zm0 1h2v1h-2zm2 -3h1v3h-1zm1 -4h1v4h-1zm1 -1h1v1h-1zm1 1h2v1h-2zm2 -2h1v1h-1zm0 1h1v1h-1zm1 -3h1v1h-1zm0 1h1v1h-1zm1 -2h1v1h-1zm1 1h2v1h-2zm2 -2h1v1h-1zm0 1h1v1h-1zm1 -2h1v1h-1zm1 1h1v1h-1zm0 1h1v1h-1zm1 -1h1v3h-1zm1 -2h1v1h-1zm0 1h3v1h-3zm3 1h2v1h-2zm2 -1h2v1h-2zm2 1h1v1h-1zm1 1h2v1h-2zm2 1h1v1h-1zm0 1h1v1h-1zm1 1h1v1h-1zm1 1h2v1h-2zm2 1h1v1h-1zm0 1h1v1h-1zm1 1h1v1h-1zm1 1h2v1h-2zm2 -2h1v3h-1zm1 -3h1v3h-1zm1 -1h1v1h-1zm1 -1h1v1h-1zm1 -1h1v1h-1zm1 -1h1v1h-1zm1 1h2v1h-2zm2 -1h2v1h-2zm2 -1h2v1h-2zm1 1h1v1h-1zm1 1h1v1h-1zm0 1h1v1h-1zm1 1h1v1h-1zm0 1h1v1h-1zm1 -3h1v1h-1zm0 1h2v1h-2zm2 1h1v1h-1zm1 -1h2v1h-2zm2 1h1v1h-1zm0 1h1v1h-1zm1 1h2v1h-2zm1 -1h1v1h-1zm1 2h1v4h-1zm1 4h1v3h-1zm1 -1h1v1h-1zm0 1h1v1h-1zm1 -2h1v1h-1zm1 1h2v1h-2zm1 1h1v1h-1zm1 -3h1v1h-1zm0 1h1v1h-1zm1 -5h1v4h-1zm1 -2h1v1h-1zm0 1h2v1h-2zm1 1h1v1h-1zm1 1h1v1h-1zm1 -1h1v1h-1zm1 -1h1v1h-1zm1 1h1v1h-1zm0 1h1v1h-1zm1 1h1v1h-1zm0 1h1v1h-1zm1 -2h1v1h-1zm1 -1h2v1h-2zm2 -1h1v1h-1zm1 -1h1v1h-1zm1 1h1v1h-1zm1 1h2v1h-2zm1 1h1v1h-1zm1 -2h1v1h-1zm1 -1h1v1h-1zm1 -1h1v1h-1zm1 -1h1v1h-1zm1 1h1v1h-1zm0 1h1v1h-1zm1 1h6v1h-6zm6 -1h1v1h-1zm1 -1h1v1h-1zm1 -2h1v1h-1zm0 1h1v1h-1zm1 -3h1v1h-1zm0 1h2v1h-2zm1 1h1v1h-1zm1 1h1v1h-1zm1 1h1v1h-1zm1 1h1v1h-1zm1 1h1v1h-1zm1 1h1v1h-1zm0 1h1v1h-1zm1 1h1v1h-1zm0 1h1v1h-1zm1 1h2v1h-2zm2 -1h1v1h-1zm1 -1h2v1h-2zm2 -1h2v1h-2zm2 1h1v1h-1zm1 1h1v1h-1zm1 1h3v1h-3zm3 -1h1v1h-1zm1 -1h1v1h-1zm1 -1h1v1h-1zm1 -2h1v1h-1zm0 1h1v1h-1zm1 -2h1v1h-1zm1 1h1v1h-1zm0 1h1v1h-1zm1 1h3v1h-3zm3 1h2v1h-2zm2 1h3v1h-3zm2 -1h1v1h-1zm1 2h1v1h-1zm0 1h1v1h-1zm1 1h1v1h-1zm0 1h1v1h-1zm1 -4h1v3h-1zm1 -2h1v1h-1zm0 1h1v1h-1zm1 -2h2v1h-2zm1 1h1v1h-1zm1 1h1v1h-1zm1 -1h2v1h-2zm2 -1h1v1h-1zm1 -1h1v1h-1zm1 1h1v1h-1zm0 1h1v1h-1zm1 1h2v1h-2zm2 -1h4v1h-4zm3 1h1v1h-1zm1 1h1v1h-1zm1 1h3v1h-3zm3 1h3v1h-3zm2 -1h1v1h-1zm1 -2h1v1h-1zm0 1h1v1h-1zm1 -2h1v1h-1zm1 -1h5v1h-5zm4 -1h1v1h-1zm1 -1h1v1h-1zm1 -1h1v1h-1zm1 1h2v1h-2zm2 1h1v1h-1zm0 1h1v1h-1zm1 1h1v1h-1zm0 1h1v1h-1zm1 1h1v1h-1zm1 -1h1v1h-1zm1 -1h1v1h-1zm1 1h2v1h-2zm2 -1h2v1h-2zm2 1h1v1h-1zm1 1h1v1h-1zm0 1h1v1h-1zm1 1h1v1h-1zm1 -1h5v1h-5zm4 1h1v1h-1zm1 1h1v5h-1zm1 5h3v1h-3zm0 1h1v1h-1zm2 0h1v1h-1zm1 1h1v1h-1zm0 1h1v1h-1zm1 0h1v3h-1zm1 -5h1v5h-1zm1 -3h1v3h-1zm1 -1h1v1h-1zm1 -1h1v1h-1zm1 -1h1v1h-1zm1 1h2v1h-2zm2 1h2v1h-2zm2 1h1v1h-1zm1 -1h2v1h-2zm2 1h2v1h-2zm2 -1h2v1h-2zm2 -1h1v1h-1zm1 -1h2v1h-2zm2 1h2v1h-2zm2 -1h2v1h-2zm2 1h2v1h-2zm2 -2h1v1h-1zm0 1h1v1h-1zm1 -2h2v1h-2zm1 -1h1v1h-1zm1 -1h1v1h-1zm1 -1h1v1h-1zm1 -1h1v1h-1zm1 0h1v3h-1zm1 3h1v3h-1zm1 2h2v1h-2zm2 1h1v1h-1zm1 1h1v1h-1zm1 1h1v1h-1zm0 1h1v1h-1zm1 1h1v1h-1zm1 1h2v1h-2zm2 -1h3v1h-3zm3 1h1v1h-1zm1 1h1v1h-1zm0 1h1v1h-1zm1 1h1v3h-1zm1 0h1v4h-1zm1 -3h1v3h-1zm1 0h2v1h-2zm2 1h1v1h-1zm1 1h1v1h-1zm1 -1h1v1h-1zm1 -1h1v1h-1zm1 -1h2v1h-2zm1 1h1v1h-1zm1 1h3v1h-3zm0 1h1v1h-1zm3 0h2v1h-2zm2 -2h1v1h-1zm0 1h1v1h-1zm1 -2h1v1h-1zm1 1h1v1h-1zm1 1h1v1h-1zm0 1h1v1h-1zm1 1h1v1h-1zm0 1h1v1h-1zm1 1h2v1h-2zm1 1h1v1h-1zm1 1h1v5h-1zm1 4h1v4h-1zm1 -4h1v4h-1zm1 -3h1v3h-1zm1 -1h1v1h-1zm1 1h2v1h-2zm2 -1h1v1h-1zm1 -1h6v1h-6zm6 -1h1v1h-1zm1 -1h1v3h-1zm1 3h1v3h-1zm1 2h1v3h-1zm1 -2h1v1h-1zm0 1h1v1h-1zm1 -2h1v1h-1zm1 -1h1v1h-1zm1 -1h1v1h-1zm1 -1h1v1h-1zm1 1h2v1h-2zm2 1h2v1h-2zm1 -1h1v1h-1zm1 -2h1v1h-1zm0 1h1v1h-1zm1 -2h1v1h-1zm1 -2h1v1h-1zm0 1h1v1h-1zm1 -3h1v1h-1zm0 1h1v1h-1zm1 -2h1v1h-1zm1 1h1v1h-1zm0 1h1v1h-1zm1 1h1v1h-1zm1 -1h3v1h-3zm2 1h1v1h-1zm1 1h1v5h-1zm1 5h1v3h-1zm1 0h1v1h-1zm0 1h1v1h-1zm1 -2h5v1h-5zm5 -1h1v1h-1z"/>
<path shape-rendering="crispEdges" fill="#0080ff" d="m48 539h2v1h-2zm2 1h1v1h-1zm1 1h1v1h-1zm1 1h2v1h-2zm2 1h1v1h-1zm0 1h1v1h-1zm1 1h1v1h-1zm0 1h3v1h-3zm2 -1h1v1h-1zm1 -3h1v3h-1zm1 -2h1v3h-1zm1 3h1v3h-1zm1 0h1v1h-1zm0 1h1v1h-1zm1 -2h1v1h-1zm1 -1h1v1h-1zm1 -1h1v1h-1zm1 -1h2v1h-2zm2 1h1v1h-1zm1 -1h1v1h-1zm1 -1h1v1h-1zm1 1h1v1h-1zm0 1h1v1h-1zm1 1h5v1h-5zm5 -1h1v1h-1zm1 1h2v1h-2zm2 1h1v1h-1zm0 1h1v1h-1zm1 1h2v1h-2zm0 1h1v1h-1zm2 -5h1v4h-1zm1 -4h1v4h-1zm1 1h1v1h-1zm1 1h1v1h-1zm1 1h1v1h-1zm0 1h1v1h-1zm1 1h3v1h-3zm0 1h1v1h-1zm3 -2h2v1h-2zm1 1h1v1h-1zm1 1h1v1h-1zm1 -1h2v1h-2zm2 1h1v1h-1zm0 1h1v1h-1zm1 1h1v1h-1zm0 1h1v1h-1zm1 1h1v1h-1zm0 1h1v1h-1zm1 1h1v1h-1zm1 -2h1v1h-1zm0 1h1v1h-1zm1 -2h1v1h-1zm1 -2h1v1h-1zm0 1h1v1h-1zm1 -2h2v1h-2zm1 -1h1v1h-1zm1 2h1v1h-1zm0 1h1v1h-1zm1 1h4v1h-4zm4 -1h2v1h-2zm2 1h2v1h-2zm2 -1h2v1h-2zm1 1h1v1h-1zm1 1h3v1h-3zm3 1h1v1h-1zm0 1h1v1h-1zm1 1h2v1h-2zm0 1h1v1h-1zm1 -2h1v1h-1zm1 -1h2v1h-2zm2 1h2v1h-2zm1 -1h1v1h-1zm1 -2h1v1h-1zm0 1h1v1h-1zm1 -3h1v1h-1zm0 1h1v1h-1zm1 1h1v1h-1zm0 1h1v1h-1zm1 1h1v1h-1zm1 -1h2v1h-2zm2 1h1v1h-1zm1 -2h1v1h-1zm0 1h1v1h-1zm1 -2h1v1h-1zm1 1h2v1h-2zm1 1h1v1h-1zm1 -3h1v1h-1zm0 1h1v1h-1zm1 -2h1v3h-1zm1 3h1v1h-1zm0 1h1v1h-1zm1 -3h1v1h-1zm0 1h1v1h-1zm1 -3h1v1h-1zm0 1h2v1h-2zm1 1h1v1h-1zm1 1h1v1h-1zm1 1h1v1h-1zm0 1h1v1h-1zm1 -2h1v4h-1zm1 -3h1v3h-1zm1 0h2v1h-2zm2 1h2v1h-2zm2 1h2v1h-2zm2 1h1v1h-1zm1 1h1v1h-1zm1 1h1v1h-1zm1 -1h1v1h-1zm1 -1h1v1h-1zm1 1h1v1h-1zm0 1h1v1h-1zm1 1h1v1h-1zm1 -2h1v1h-1zm0 1h1v1h-1zm1 -2h1v1h-1zm1 -1h3v1h-3zm3 -1h1v1h-1zm1 -1h5v1h-5zm4 1h1v1h-1zm1 1h1v1h-1zm1 1h2v1h-2zm1 1h1v1h-1zm1 -3h1v1h-1zm0 1h1v1h-1zm1 -2h3v1h-3zm3 -1h1v1h-1zm1 1h1v1h-1zm1 1h1v1h-1zm1 -1h1v1h-1zm1 -1h1v1h-1zm1 -1h2v1h-2zm2 -1h1v1h-1zm1 1h1v1h-1zm1 1h3v1h-3zm3 -1h2v1h-2zm2 1h2v1h-2zm1 1h1v1h-1zm1 -2h1v1h-1zm1 1h1v1h-1zm1 1h1v1h-1zm1 1h1v1h-1zm0 1h1v1h-1zm1 1h6v1h-6zm0 1h1v1h-1zm6 0h1v1h-1zm1 1h3v1h-3zm3 1h1v1h-1zm1 -2h1v1h-1zm0 1h1v1h-1zm1 -3h1v1h-1zm0 1h1v1h-1zm1 -3h4v1h-4zm0 1h1v1h-1zm4 0h1v1h-1zm1 1h2v1h-2zm2 1h1v1h-1zm1 1h20v1h-20zm20 -35h1v36h-1zm1 -35h1v35h-1zm1 8h1v15h-1zm1 15h1v8h-1zm1 8h1v1h-1zm0 1h1v1h-1zm1 1h1v1h-1zm0 1h1v1h-1zm1 1h1v1h-1zm0 1h1v1h-1zm1 1h1v1h-1zm0 1h1v1h-1zm1 1h1v1h-1zm0 1h5v1h-5zm5 1h1v1h-1zm1 1h1v1h-1zm1 1h3v1h-3zm2 1h1v1h-1zm1 -3h1v1h-1zm0 1h1v1h-1zm1 -2h6v1h-6zm6 1h1v1h-1zm0 1h1v1h-1zm1 1h3v1h-3zm3 1h3v1h-3zm3 0h1v5h-1zm1 5h1v4h-1zm1 3h2v1h-2zm2 -1h1v1h-1zm1 -1h1v1h-1zm1 -1h1v1h-1zm1 -1h4v1h-4zm4 -1h2v1h-2zm2 1h2v1h-2zm2 -1h1v1h-1zm1 -1h2v1h-2zm2 1h1v1h-1zm0 1h1v1h-1zm1 1h1v1h-1zm1 -1h4v1h-4zm4 1h1v1h-1zm1 1h1v1h-1zm0 1h1v1h-1zm1 1h1v1h-1zm1 -2h1v1h-1zm0 1h1v1h-1zm1 -2h1v1h-1zm1 1h1v1h-1zm0 1h1v1h-1zm1 1h1v1h-1zm1 -2h1v1h-1zm0 1h1v1h-1zm1 -2h1v1h-1zm1 -1h1v1h-1zm1 1h2v1h-2zm2 -2h1v1h-1zm0 1h1v1h-1zm1 -2h1v1h-1zm1 1h3v1h-3zm1 1h1v1h-1zm1 -2h1v1h-1zm1 2h1v1h-1zm0 1h1v1h-1zm1 1h2v1h-2zm0 1h1v1h-1zm2 -4h1v3h-1zm1 -4h1v4h-1zm1 -1h1v1h-1zm1 1h1v1h-1zm0 1h1v1h-1zm1 1h1v1h-1zm1 1h3v1h-3zm2 -1h1v1h-1zm1 -1h1v1h-1zm1 -1h1v1h-1zm1 -1h1v1h-1zm1 -1h2v1h-2zm1 1h1v1h-1zm1 1h1v1h-1zm1 1h1v1h-1zm1 1h1v1h-1zm0 1h1v1h-1zm1 1h3v1h-3zm2 1h1v1h-1zm1 1h1v1h-1zm0 1h1v1h-1zm1 1h2v1h-2zm2 -1h1v1h-1zm1 -1h1v1h-1zm1 1h1v1h-1zm0 1h1v1h-1zm1 1h3v1h-3zm3 -2h1v1h-1zm0 1h1v1h-1zm1 -3h1v1h-1zm0 1h1v1h-1zm1 -2h3v1h-3zm3 1h1v1h-1zm0 1h1v1h-1zm1 1h2v1h-2zm2 -1h1v1h-1zm1 -1h3v1h-3zm2 1h1v1h-1zm1 1h1v3h-1zm1 3h1v1h-1zm0 1h1v1h-1zm1 -2h3v1h-3zm3 1h1v1h-1zm0 1h1v1h-1zm1 1h2v1h-2zm0 1h1v1h-1zm2 -2h1v1h-1zm1 -2h1v1h-1zm0 1h1v1h-1zm1 -2h1v1h-1zm1 -1h1v1h-1zm1 -1h2v1h-2zm2 1h1v1h-1zm1 1h1v1h-1zm1 1h2v1h-2zm2 1h1v1h-1zm1 -1h2v1h-2zm2 -1h2v1h-2zm2 -1h3v1h-3zm2 1h1v1h-1zm1 1h1v1h-1zm0 1h1v1h-1zm1 1h2v1h-2zm0 1h1v1h-1zm2 -3h1v1h-1zm0 1h1v1h-1zm1 -3h1v1h-1zm0 1h1v1h-1zm1 -2h1v1h-1zm1 1h3v1h-3zm3 -1h1v1h-1zm1 -1h1v1h-1zm1 -1h1v1h-1zm1 -1h1v1h-1zm1 1h1v1h-1zm0 1h1v1h-1zm1 1h1v3h-1zm1 3h2v1h-2zm0 1h1v1h-1zm1 -2h1v1h-1zm1 -1h1v1h-1zm1 1h2v1h-2zm2 1h3v1h-3zm2 -1h1v1h-1zm1 2h1v1h-1zm0 1h2v1h-2zm1 1h1v1h-1zm1 -3h1v1h-1zm0 1h1v1h-1zm1 -3h1v1h-1zm0 1h1v1h-1zm1 1h1v3h-1zm1 3h1v1h-1zm0 1h1v1h-1zm1 -3h1v1h-1zm0 1h1v1h-1zm1 -2h1v1h-1zm1 1h1v1h-1zm1 -1h2v1h-2zm2 1h1v1h-1zm1 1h1v1h-1zm1 -1h1v1h-1zm1 -1h2v1h-2zm2 -1h4v1h-4zm4 1h1v1h-1zm1 0h1v3h-1zm1 3h1v3h-1zm1 1h2v1h-2zm1 1h1v1h-1zm1 1h1v1h-1zm0 1h1v1h-1zm1 1h1v1h-1zm1 -1h1v1h-1zm1 -1h1v1h-1zm1 -1h3v1h-3zm3 -2h1v1h-1zm0 1h1v1h-1zm1 -2h1v1h-1zm1 -1h2v1h-2zm1 1h1v1h-1zm1 1h1v1h-1zm0 1h1v1h-1zm1 1h1v1h-1zm0 1h1v1h-1zm1 -3h3v1h-3zm0 1h1v1h-1zm3 -2h2v1h-2zm1 1h1v1h-1zm1 1h1v4h-1zm1 4h1v1h-1zm0 1h1v1h-1zm1 -3h2v1h-2zm0 1h1v1h-1zm1 -2h1v1h-1zm1 2h3v1h-3zm0 1h1v1h-1zm2 -2h1v1h-1zm1 2h1v1h-1zm0 1h2v1h-2zm1 1h1v1h-1zm1 -4h1v3h-1zm1 -3h1v3h-1zm1 -3h1v3h-1zm1 -2h1v1h-1zm0 1h1v1h-1zm1 -2h1v1h-1zm1 -1h2v1h-2zm1 -1h1v1h-1zm1 2h1v1h-1zm0 1h1v1h-1zm1 1h2v1h-2zm2 1h2v1h-2zm2 -2h1v1h-1zm0 1h1v1h-1zm1 -2h1v1h-1zm1 1h1v1h-1zm0 1h1v1h-1zm1 1h1v1h-1zm1 -1h1v1h-1zm1 -1h2v1h-2zm2 -2h1v1h-1zm0 1h1v1h-1zm1 -2h1v1h-1zm1 -2h1v1h-1zm0 1h1v1h-1zm1 -3h1v1h-1zm0 1h1v1h-1zm1 -3h2v1h-2zm0 1h1v1h-1zm1 -2h1v1h-1zm1 2h2v1h-2zm0 1h1v1h-1zm1 -2h1v1h-1zm1 -1h1v1h-1zm1 1h2v1h-2zm2 -2h1v1h-1zm0 1h1v1h-1zm1 -2h1v1h-1zm1 1h1v1h-1zm0 1h1v1h-1zm1 1h1v1h-1zm0 1h4v1h-4zm4 -1h1v1h-1zm1 -1h3v1h-3zm3 1h1v1h-1zm0 1h1v1h-1zm1 1h1v1h-1zm0 1h1v1h-1zm1 1h1v1h-1zm0 1h3v1h-3zm3 1h1v1h-1zm0 1h1v1h-1zm1 1h1v1h-1zm1 1h1v1h-1zm1 -2h1v1h-1zm0 1h1v1h-1zm1 -2h1v1h-1zm1 1h2v1h-2zm2 1h2v1h-2zm2 1h1v1h-1zm1 1h1v1h-1zm0 1h1v1h-1zm1 1h2v1h-2zm0 1h1v1h-1zm2 -2h1v1h-1zm1 -2h1v1h-1zm0 1h1v1h-1zm1 -2h1v1h-1zm1 -1h2v1h-2zm1 -1h1v1h-1zm1 2h1v1h-1zm1 1h4v1h-4zm4 1h1v1h-1zm1 1h1v1h-1zm1 -1h1v1h-1zm1 -1h4v1h-4zm4 1h1v1h-1zm0 1h1v1h-1zm1 1h1v1h-1zm1 1h1v1h-1zm0 1h1v1h-1zm1 1h2v1h-2zm2 -1h2v1h-2zm2 1h2v1h-2zm2 -1h3v1h-3zm1 -1h1v1h-1zm1 2h1v1h-1zm1 -3h1v1h-1zm0 1h1v1h-1zm1 -2h1v1h-1zm1 -1h5v1h-5zm5 1h1v1h-1zm0 1h1v1h-1zm1 1h2v1h-2zm0 1h1v1h-1zm2 -2h1v1h-1zm1 1h1v1h-1zm1 1h1v1h-1zm1 -1h2v1h-2zm1 1h1v1h-1zm1 1h3v1h-3zm3 -2h1v1h-1zm0 1h1v1h-1zm1 -3h1v1h-1zm0 1h1v1h-1zm1 -3h1v1h-1zm0 1h1v1h-1zm1 -3h2v1h-2zm0 1h2v1h-2zm2 1h1v1h-1zm0 1h1v1h-1zm1 1h1v1h-1zm1 1h1v1h-1zm1 1h1v1h-1zm1 1h1v1h-1zm0 1h1v1h-1zm1 1h1v1h-1zm0 1h1v1h-1zm1 1h1v1h-1zm0 1h1v1h-1zm1 1h1v1h-1zm1 -1h1v1h-1zm1 -2h1v1h-1zm0 1h1v1h-1zm1 -2h1v1h-1zm1 -1h1v1h-1zm1 -1h2v1h-2zm1 1h1v1h-1zm1 1h1v1h-1zm0 1h1v1h-1zm1 1h2v1h-2zm0 1h1v1h-1zm1 -2h1v1h-1zm1 -1h1v1h-1zm1 -2h1v1h-1zm0 1h1v1h-1zm1 -3h1v1h-1zm0 1h1v1h-1zm1 -2h5v1h-5zm5 1h1v1h-1zm1 1h1v1h-1zm1 -1h1v1h-1zm1 -1h1v1h-1zm1 -1h1v1h-1zm1 -3h1v3h-1zm1 -2h1v1h-1zm0 1h5v1h-5zm5 1h1v1h-1zm0 1h1v1h-1zm1 1h1v1h-1zm1 1h1v1h-1zm1 1h2v1h-2zm2 1h1v1h-1zm1 1h1v1h-1zm1 1h1v1h-1zm0 1h1v1h-1zm1 1h4v1h-4zm3 -1h1v1h-1zm1 -2h1v1h-1zm0 1h1v1h-1zm1 -3h1v1h-1zm0 1h1v1h-1zm1 -4h1v3h-1zm1 -2h1v1h-1zm0 1h1v1h-1zm1 -3h1v1h-1zm0 1h1v1h-1zm1 -2h1v1h-1zm1 1h1v1h-1zm1 -1h2v1h-2zm2 -1h1v1h-1zm1 -1h1v1h-1zm1 1h2v1h-2zm1 1h1v1h-1zm1 1h1v1h-1zm0 1h1v1h-1zm1 1h1v10h-1zm1 10h1v3h-1zm1 -2h1v3h-1zm1 -2h3v1h-3zm0 1h1v1h-1zm3 -2h1v1h-1zm1 -2h1v1h-1zm0 1h1v1h-1zm1 -3h1v1h-1zm0 1h1v1h-1zm1 -3h1v1h-1zm0 1h1v1h-1zm1 -2h1v1h-1zm1 -1h4v1h-4zm3 -1h2v1h-2zm1 -1h1v1h-1zm1 2h1v1h-1zm1 1h3v1h-3zm3 -1h2v1h-2zm1 1h1v1h-1zm1 1h1v3h-1zm1 3h3v1h-3zm0 1h1v1h-1zm3 -3h1v1h-1zm0 1h1v1h-1zm1 -3h1v1h-1zm0 1h1v1h-1zm1 -3h2v1h-2zm0 1h1v1h-1zm2 -3h1v3h-1zm1 -2h1v1h-1zm0 1h2v1h-2zm1 1h1v1h-1zm1 1h1v1h-1zm1 1h1v1h-1zm0 1h1v1h-1zm1 1h2v1h-2zm0 1h1v1h-1zm2 -2h1v1h-1zm1 1h5v1h-5zm5 1h1v1h-1zm0 1h1v1h-1zm1 1h1v1h-1zm1 -1h2v1h-2zm2 1h1v1h-1zm0 1h1v1h-1zm1 1h4v1h-4zm4 -1h1v1h-1zm1 0h1v3h-1zm1 3h1v3h-1zm1 -1h1v1h-1zm0 1h1v1h-1zm1 -3h1v1h-1zm0 1h2v1h-2zm2 1h3v1h-3zm2 -1h1v1h-1zm1 -2h2v1h-2zm0 1h1v1h-1zm1 -2h1v1h-1zm1 2h5v1h-5zm5 1h2v1h-2zm2 1h1v1h-1zm1 -2h1v1h-1zm0 1h1v1h-1zm1 -2h1v1h-1zm1 1h2v1h-2zm2 1h5v1h-5zm5 -2h1v1h-1zm0 1h1v1h-1zm1 -2h1v1h-1zm1 1h1v1h-1zm1 1h1v1h-1zm1 1h2v1h-2zm2 1h1v1h-1zm1 1h1v1h-1zm0 1h1v1h-1zm1 1h2v1h-2zm2 1h3v1h-3zm2 1h1v1h-1zm1 1h1v1h-1zm1 -1h2v1h-2zm1 -1h1v1h-1zm1 2h1v1h-1zm0 1h1v1h-1zm1 0h1v3h-1zm1 -3h1v3h-1zm1 -2h1v1h-1zm0 1h3v1h-3zm2 1h1v1h-1zm1 1h1v1h-1zm1 -1h3v1h-3zm3 -1h1v3h-1zm1 3h1v1h-1zm0 1h1v1h-1zm1 1h1v1h-1zm0 1h1v1h-1zm1 1h1v1h-1zm0 1h1v1h-1zm1 1h1v1h-1zm0 1h1v1h-1zm1 -1h1v3h-1zm1 -4h1v4h-1zm1 -2h1v1h-1zm0 1h1v1h-1zm1 -3h1v1h-1zm0 1h1v1h-1zm1 -2h1v1h-1zm1 1h1v1h-1zm1 -1h1v1h-1zm1 -1h1v1h-1zm1 1h2v1h-2zm2 -1h1v1h-1zm1 -1h1v1h-1zm1 1h1v1h-1zm1 1h1v1h-1zm0 1h1v1h-1zm1 1h1v1h-1zm0 1h1v1h-1zm1 1h1v1h-1zm1 1h1v1h-1zm1 -1h2v1h-2zm1 1h1v1h-1zm1 1h1v1h-1zm1 1h1v1h-1zm0 1h1v1h-1zm1 1h1v1h-1zm1 1h1v3h-1zm1 3h3v1h-3zm0 1h1v1h-1zm3 0h2v1h-2zm2 -1h1v1h-1zm1 -4h1v4h-1zm1 -1h5v1h-5zm5 1h1v1h-1zm0 1h1v1h-1zm1 1h1v1h-1zm0 1h1v1h-1zm1 -2h7v1h-7zm6 -1h1v1h-1zm1 -1h1v1h-1zm1 1h2v1h-2zm2 -1h1v1h-1zm1 -1h5v1h-5zm5 1h1v1h-1zm1 -1h1v1h-1zm1 -1h1v1h-1zm1 -1h1v1h-1zm1 -1h3v1h-3zm3 -1h1v1h-1zm1 1h2v1h-2zm2 1h1v1h-1zm0 1h1v1h-1zm1 1h3v1h-3zm3 1h2v1h-2zm2 1h1v1h-1zm1 1h1v1h-1zm1 1h1v1h-1zm1 -2h1v1h-1zm0 1h1v1h-1zm1 -2h1v1h-1zm1 1h3v1h-3zm3 1h2v1h-2zm2 -1h2v1h-2zm1 1h1v1h-1zm1 1h1v1h-1zm1 -3h1v5h-1zm1 -4h1v4h-1zm1 1h1v1h-1zm1 1h1v1h-1zm1 -1h1v1h-1zm1 -1h1v1h-1zm1 1h1v1h-1zm1 1h1v1h-1zm1 -2h1v1h-1zm0 1h1v1h-1zm1 -2h1v3h-1zm1 3h1v3h-1zm1 -2h1v3h-1zm1 -2h1v1h-1zm0 1h2v1h-2zm2 1h1v1h-1zm1 1h1v1h-1zm1 1h2v1h-2zm1 1h1v1h-1zm1 1h1v3h-1zm1 3h1v1h-1zm0 1h3v1h-3zm3 -1h2v1h-2zm1 -1h1v1h-1zm1 2h1v1h-1zm0 1h1v1h-1zm1 1h1v3h-1zm1 3h1v1h-1zm0 1h1v1h-1zm1 1h1v1h-1zm0 1h1v1h-1zm1 1h1v1h-1zm0 1h1v1h-1zm1 -5h1v4h-1zm1 -3h1v3h-1zm1 -4h1v4h-1zm1 -2h1v6h-1zm1 6h1v5h-1zm1 -2h1v4h-1zm1 -3h1v3h-1zm1 0h4v1h-4zm4 1h1v4h-1zm1 4h1v6h-1zm1 6h1v3h-1zm1 2h1v1h-1zm1 -7h1v7h-1zm1 -7h1v7h-1zm1 -2h1v1h-1zm0 1h1v1h-1zm1 -3h2v1h-2zm0 1h2v1h-2zm2 1h1v4h-1zm1 4h1v6h-1zm1 6h1v3h-1zm1 -1h1v1h-1zm0 1h1v1h-1zm1 -3h1v1h-1zm0 1h1v1h-1zm1 -3h1v1h-1zm0 1h1v1h-1zm1 -3h1v5h-1zm1 5h1v4h-1zm1 -3h1v4h-1zm1 -3h1v3h-1zm1 -1h1v1h-1zm1 -1h1v1h-1zm1 -1h2v1h-2zm1 -1h1v1h-1zm1 2h2v1h-2zm2 1h1v1h-1zm1 1h1v1h-1zm1 1h1v1h-1zm1 -1h1v1h-1zm1 -1h1v1h-1zm1 -1h1v1h-1zm1 -1h2v1h-2zm2 -2h1v1h-1zm0 1h1v1h-1zm1 -2h1v1h-1zm1 1h1v1h-1zm1 1h3v1h-3zm3 1h1v1h-1zm1 1h2v1h-2zm2 1h2v1h-2zm2 -1h2v1h-2zm2 -1h2v1h-2zm2 1h3v1h-3zm2 -1h1v1h-1zm1 -2h1v1h-1zm0 1h1v1h-1zm1 -3h2v1h-2zm0 1h1v1h-1zm2 -5h1v5h-1zm1 -6h1v6h-1zm1 -3h1v3h-1zm1 -3h1v3h-1zm1 -2h1v1h-1zm0 1h1v1h-1zm1 -2h1v1h-1zm1 -1h1v1h-1zm1 -1h2v1h-2zm1 -1h1v1h-1zm1 2h1v5h-1zm1 5h1v3h-1zm1 -2h1v3h-1zm1 -2h1v1h-1zm0 1h1v1h-1zm1 1h1v3h-1zm1 3h2v1h-2zm0 1h1v1h-1zm1 -2h1v1h-1zm1 -1h2v1h-2zm2 -1h1v1h-1zm1 -1h1v1h-1zm1 1h1v1h-1zm1 1h1v1h-1zm1 1h1v1h-1zm0 1h1v1h-1zm1 1h1v1h-1zm0 1h1v1h-1zm1 -3h1v1h-1zm0 1h1v1h-1zm1 1h1v1h-1zm0 1h1v1h-1zm1 1h1v1h-1zm1 -1h2v1h-2zm2 1h1v1h-1zm1 1h1v1h-1zm0 1h1v1h-1zm1 1h1v1h-1zm0 1h2v1h-2zm1 1h1v1h-1zm1 -2h1v1h-1zm1 1h1v1h-1zm1 1h1v1h-1zm1 -1h2v1h-2zm2 1h2v1h-2zm1 1h1v1h-1zm1 -3h1v3h-1zm1 3h1v3h-1zm1 3h3v1h-3zm0 1h1v1h-1zm2 0h1v1h-1zm1 1h1v3h-1zm1 3h1v4h-1zm1 3h1v1h-1zm0 1h1v1h-1zm1 -3h1v1h-1zm0 1h1v1h-1zm1 -3h1v1h-1zm0 1h1v1h-1zm1 -2h2v1h-2zm2 -1h1v1h-1zm1 -1h1v1h-1zm1 -1h1v1h-1zm1 -1h2v1h-2zm1 1h1v1h-1zm1 -3h1v1h-1zm0 1h1v1h-1zm1 -3h1v1h-1zm0 1h3v1h-3zm3 -1h1v1h-1zm1 -2h1v1h-1zm0 1h1v1h-1zm1 -3h1v1h-1zm0 1h1v1h-1zm1 -2h2v1h-2zm2 1h2v1h-2zm1 -1h1v1h-1zm1 -2h1v1h-1zm0 1h1v1h-1zm1 -3h1v1h-1zm0 1h2v1h-2zm1 1h2v1h-2zm1 1h1v1h-1zm1 -2h5v1h-5zm5 -1h1v1h-1zm1 -5h1v5h-1zm1 -2h1v1h-1zm0 1h2v1h-2zm2 1h1v4h-1zm1 4h1v5h-1zm1 5h1v1h-1zm0 1h1v1h-1zm1 1h3v1h-3zm3 1h1v1h-1zm0 1h1v1h-1zm1 1h3v1h-3z"/>
<g shape-rendering="crispEdges" fill="#000">
<path d="M48 38h958v1h-958zM48 741h958v1h-958zM48 38h1v704h-1zM1005 38h1v704h-1zM48 108h8v1h-8zM998 108h8v1h-8zM48 249h8v1h-8zM998 249h8v1h-8zM48 389h8v1h-8zM998 389h8v1h-8zM48 530h8v1h-8zM998 530h8v1h-8zM48 671h8v1h-8zM998 671h8v1h-8zM225 38h1v8h-1zM225 734h1v8h-1zM402 38h1v8h-1zM402 734h1v8h-1zM580 38h1v8h-1zM580 734h1v8h-1zM757 38h1v8h-1zM757 734h1v8h-1zM934 38h1v8h-1zM934 734h1v8h-1z"/>
</g>
<text x="42.2" y="112.5" text-anchor="end">4000</text>
<text x="42.2" y="253.5" text-anchor="end">2000</text>
<text x="42.2" y="393.5" text-anchor="end">0</text>
<text x="42.2" y="534.5" text-anchor="end">−2000</text>
<text x="42.2" y="675.5" text-anchor="end">−4000</text>
<text x="50.5" y="759" text-anchor="middle">0</text>
<text x="227.5" y="759" text-anchor="middle">100</text>
<text x="404.5" y="759" text-anchor="middle">200</text>
<text x="582.5" y="759" text-anchor="middle">300</text>
<text x="759.5" y="759" text-anchor="middle">400</text>
<text x="936.5" y="759" text-anchor="middle">500</text>
<text x="526" y="23" text-anchor="middle">p3400_00</text>
<text class="m" x="955.3" y="56" text-anchor="end">line 1</text>
<rect shape-rendering="crispEdges" x="962" y="51" width="32" height="1" fill="#ff0000"/>
<text class="m" x="955.3" y="69" text-anchor="end">line 2</text>
<rect shape-rendering="crispEdges" x="962" y="64" width="32" height="1" fill="#00c000"/>
<text class="m" x="955.3" y="82" text-anchor="end">line 3</text>
<rect shape-rendering="crispEdges" x="962" y="77" width="32" height="1" fill="#0080ff"/>
</svg>
</body></html>
